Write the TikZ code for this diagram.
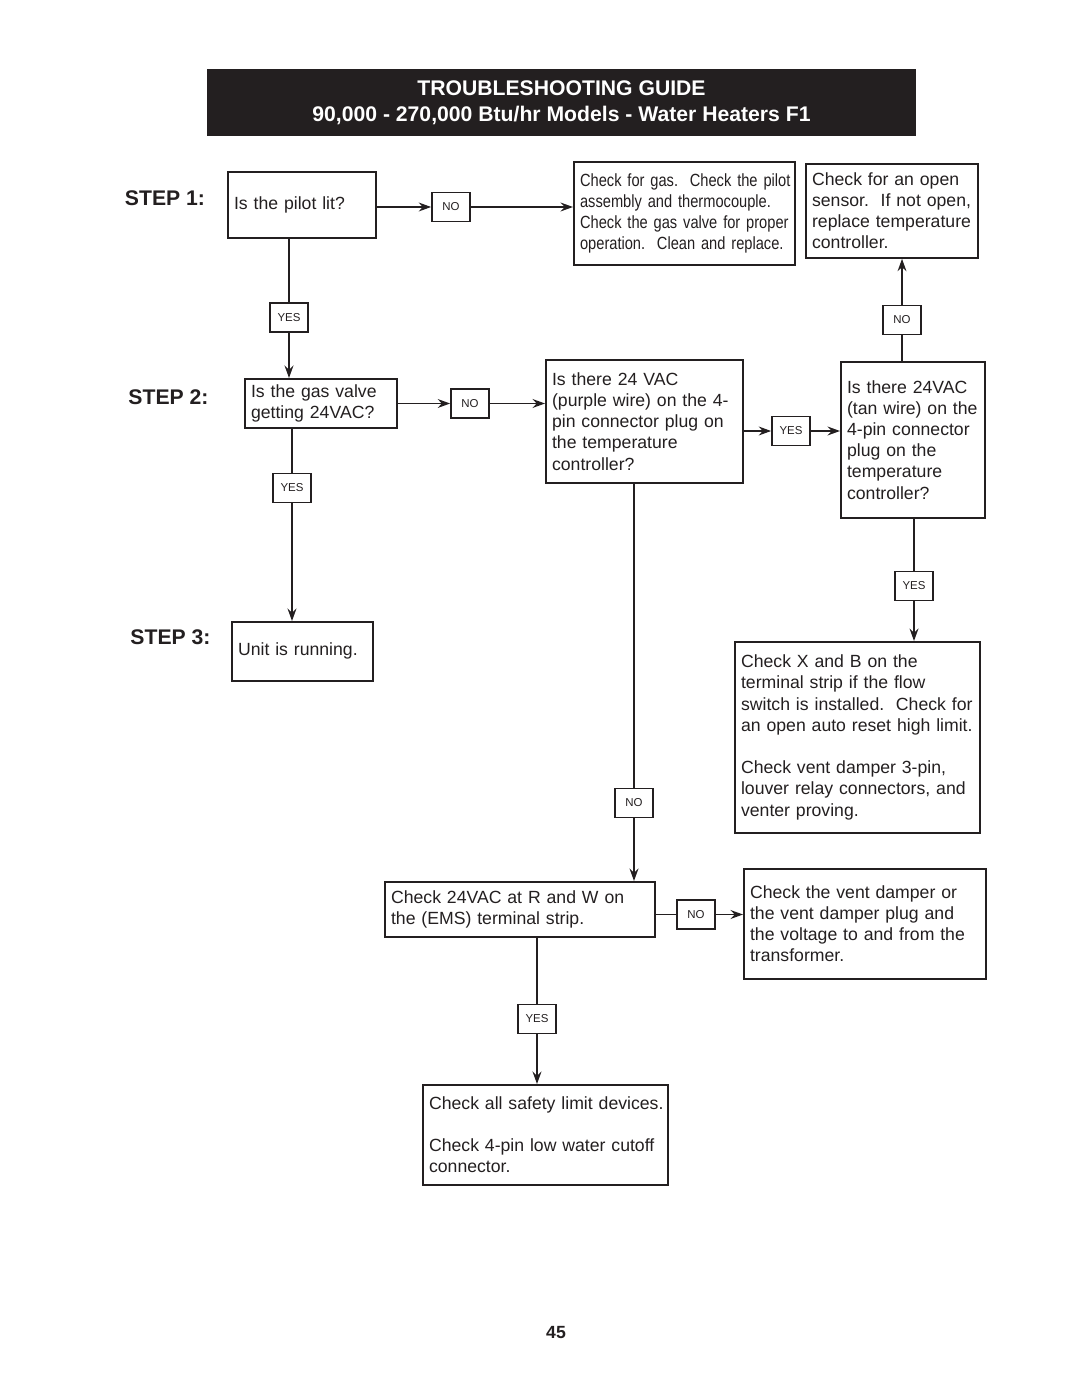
\documentclass[tikz,border=0pt]{standalone}
\usepackage{fontspec}
\setmainfont{Liberation Sans}
\newfontfamily\narrowfont[FakeStretch=0.83]{Liberation Sans}
\usetikzlibrary{arrows.meta}
\definecolor{ink}{HTML}{231F20}

\begin{document}
\begin{tikzpicture}[x=0.56667pt, y=-0.56667pt,
    qbox/.style 2 args={draw=ink, line width=1pt, rectangle, anchor=north west, align=left,
        inner xsep=3.5pt, inner ysep=0pt, text width=#1, minimum height=#2,
        font=\fontsize{10}{12}\selectfont, text=ink},
    ansbox/.style={draw=ink, line width=1pt, minimum width=21.5pt, minimum height=16.4pt,
        inner sep=0pt, font=\fontsize{6.5}{7}\selectfont, text=ink},
    steplabel/.style={font=\fontsize{12}{14}\selectfont\bfseries, text=ink},
    flow/.style={draw=ink, line width=1pt},
    arr/.style={flow, -{Stealth[length=7pt, width=5pt]}}]
    \useasboundingbox (0,0) rectangle (1080,1397);

    % header
    \node[fill=ink, minimum width=401.8pt, minimum height=38pt, align=center, text=white,
        font=\fontsize{12}{14.7}\selectfont\bfseries] (title) at (561.5,102.5)
        {TROUBLESHOOTING GUIDE\\90,000 - 270,000 Btu/hr Models - Water Heaters F1};

    \node[steplabel] (step1) at (165,198) {STEP 1:};
    \node[steplabel] (step2) at (168.5,397) {STEP 2:};
    \node[steplabel] (step3) at (170.5,637) {STEP 3:};

    % question and check boxes
    \node[qbox={76.9pt}{37.4pt}] (pilot) at (227,171) {Is the pilot lit?};
    \node[qbox={118.2pt}{58.4pt}, font=\fontsize{10}{12}\narrowfont] (gascheck) at (573,161)
        {\mbox{Check for gas.\ \ Check the pilot}\\\mbox{assembly and thermocouple.}\\
         \mbox{Check the gas valve for proper}\\\mbox{operation.\ \ Clean and replace.}};
    \node[qbox={90.5pt}{53.3pt}] (sensor) at (805,163)
        {Check for an open\\sensor.\ \ If not open,\\replace temperature\\controller.};
    \node[qbox={79.1pt}{27.8pt}] (valve) at (244,378) {Is the gas valve\\getting 24VAC?};
    \node[qbox={104.6pt}{69.7pt}] (purple) at (545,359)
        {Is there 24 VAC\\(purple wire) on the 4-\\pin connector plug on\\the temperature\\controller?};
    \node[qbox={74.6pt}{88.4pt}] (tan) at (840,361)
        {Is there 24VAC\\(tan wire) on the\\4-pin connector\\plug on the\\temperature\\controller?};
    \node[qbox={131.8pt}{108.2pt}] (strip) at (734,641)
        {Check X and B on the\\terminal strip if the flow\\switch is installed.\ \ Check for\\\mbox{an open auto reset high limit.}\\[12pt]Check vent damper 3-pin,\\louver relay connectors, and\\venter proving.};
    \node[qbox={72.9pt}{33.4pt}] (running) at (231,621) {Unit is running.};
    \node[qbox={146pt}{31.2pt}] (ems) at (384,881)
        {Check 24VAC at R and W on\\the (EMS) terminal strip.};
    \node[qbox={130.1pt}{62.3pt}] (damper) at (743,868)
        {Check the vent damper or\\the vent damper plug and\\the voltage to and from the\\transformer.};
    \node[qbox={131.8pt}{56.7pt}] (safety) at (422,1084)
        {\mbox{Check all safety limit devices.}\\[12pt]Check 4-pin low water cutoff\\connector.};

    % answer tags
    \node[ansbox] (no1) at (451,207) {NO};
    \node[ansbox] (yes1) at (289,317.5) {YES};
    \node[ansbox] (no2) at (470,403.5) {NO};
    \node[ansbox] (yes2) at (791,431) {YES};
    \node[ansbox] (no3) at (902,320) {NO};
    \node[ansbox] (yes3) at (914,586) {YES};
    \node[ansbox] (yes4) at (292,488) {YES};
    \node[ansbox] (no4) at (634,803) {NO};
    \node[ansbox] (no5) at (696,914.5) {NO};
    \node[ansbox] (yes5) at (537,1019) {YES};

    % connectors
    \draw[arr] (no1.west -| pilot.east) -- (no1.west);
    \draw[arr] (no1.east) -- (no1.east -| gascheck.west);
    \draw[flow] (yes1.north |- pilot.south) -- (yes1.north);
    \draw[arr] (yes1.south) -- (yes1.south |- valve.north);
    \draw[arr] (no2.west -| valve.east) -- (no2.west);
    \draw[arr] (no2.east) -- (no2.east -| purple.west);
    \draw[arr] (yes2.west -| purple.east) -- (yes2.west);
    \draw[arr] (yes2.east) -- (yes2.east -| tan.west);
    \draw[flow] (no3.south |- tan.north) -- (no3.south);
    \draw[arr] (no3.north) -- (no3.north |- sensor.south);
    \draw[flow] (yes3.north |- tan.south) -- (yes3.north);
    \draw[arr] (yes3.south) -- (yes3.south |- strip.north);
    \draw[flow] (yes4.north |- valve.south) -- (yes4.north);
    \draw[arr] (yes4.south) -- (yes4.south |- running.north);
    \draw[flow] (no4.north |- purple.south) -- (no4.north);
    \draw[arr] (no4.south) -- (no4.south |- ems.north);
    \draw[flow] (no5.west -| ems.east) -- (no5.west);
    \draw[arr] (no5.east) -- (no5.east -| damper.west);
    \draw[flow] (yes5.north |- ems.south) -- (yes5.north);
    \draw[arr] (yes5.south) -- (yes5.south |- safety.north);

    \node[font=\fontsize{10}{12}\selectfont\bfseries, text=ink] (page) at (556,1332) {45};
\end{tikzpicture}
\end{document}
